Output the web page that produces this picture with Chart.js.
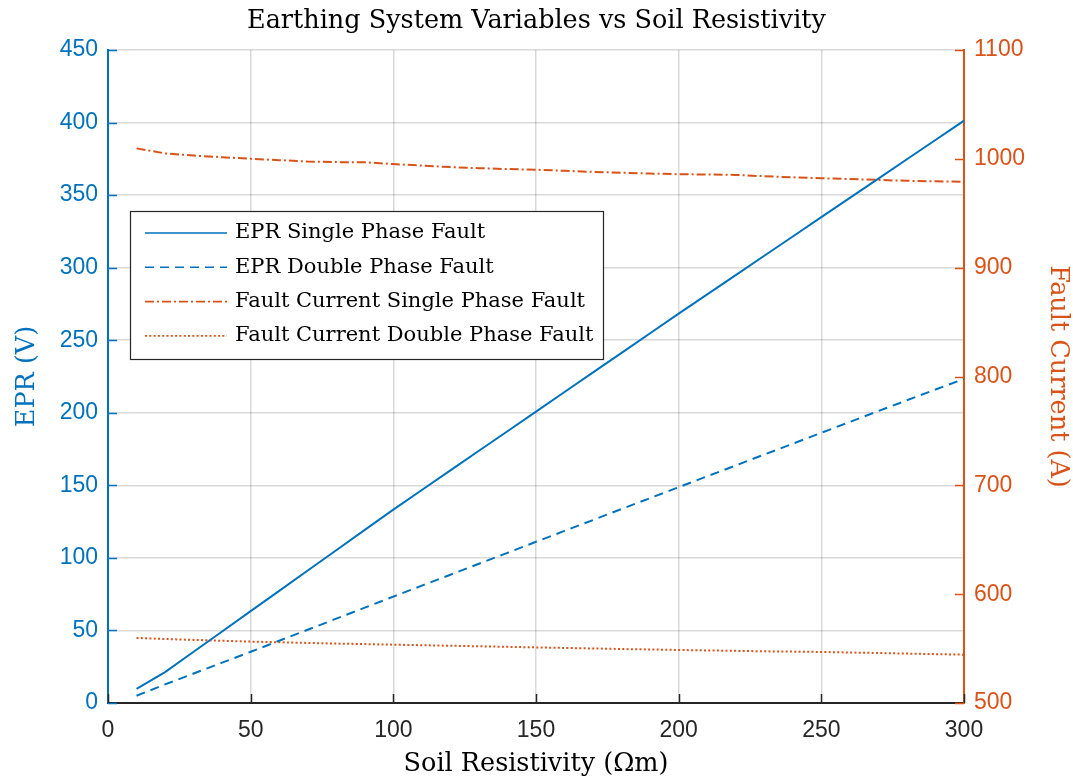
<!DOCTYPE html>
<html>
<head>
<meta charset="utf-8">
<script src="https://cdn.jsdelivr.net/npm/chart.js@4/dist/chart.umd.min.js"></script>
<style>
  html, body { margin: 0; padding: 0; background: #ffffff; }
  #wrap { width: 1073px; height: 780px; }
</style>
</head>
<body>
<div id="wrap"><canvas id="chart" width="1073" height="780"></canvas></div>
<script>
// Soil resistivity samples (Ωm)
const soilResistivity = [10, 20, 30, 40, 50, 60, 70, 80, 90, 100,
  110, 120, 130, 140, 150, 160, 170, 180, 190, 200,
  210, 220, 230, 240, 250, 260, 270, 280, 290, 300];

// Earth potential rise (V)
const eprSingle = [9.7, 21.3, 35.3, 49.3, 63.3, 77.3, 91.3, 105.3, 119.3, 133.3,
  146.8, 160.3, 173.8, 187.3, 200.8, 214.3, 227.8, 241.3, 254.8, 268.3,
  281.6, 294.9, 308.2, 321.5, 334.8, 348.1, 361.4, 374.7, 388.0, 401.3];
const eprDouble = [5.0, 12.8, 20.3, 27.8, 35.3, 42.9, 50.5, 58.1, 65.7, 73.3,
  80.9, 88.4, 96.0, 103.5, 111.1, 118.6, 126.1, 133.7, 141.2, 148.7,
  156.2, 163.7, 171.2, 178.7, 186.2, 193.7, 201.2, 208.6, 216.0, 223.4];

// Fault current (A)
const currentSingle = [1009.6, 1005.0, 1003.0, 1001.5, 1000.0, 998.8, 997.5, 997.0, 996.8, 995.2,
  993.8, 992.4, 991.4, 990.6, 990.0, 989.0, 988.0, 987.2, 986.5, 985.9,
  985.6, 985.2, 984.0, 983.0, 982.2, 981.4, 980.6, 979.8, 979.3, 978.9];
const currentDouble = [559.8, 558.8, 558.0, 557.2, 556.4, 555.8, 555.2, 554.6, 554.1, 553.6,
  553.1, 552.6, 552.1, 551.6, 551.1, 550.6, 550.1, 549.6, 549.2, 548.7,
  548.3, 547.9, 547.5, 547.2, 546.9, 546.4, 545.9, 545.4, 544.9, 544.4];

const seriesLabels = [
  'EPR Single Phase Fault',
  'EPR Double Phase Fault',
  'Fault Current Single Phase Fault',
  'Fault Current Double Phase Fault'
];

const BLUE = '#0072BD';
const ORANGE = '#D95319';
const INK = '#262626';
const SERIF = '"DejaVu Serif", "Liberation Serif", serif';
const SANS = '"Liberation Sans", Arial, sans-serif';

const pts = (ys) => soilResistivity.map((x, i) => ({ x: x, y: ys[i] }));
const plain = (v) => String(v);

// Short inward tick marks on the left, right and bottom axes
const innerTicks = {
  id: 'innerTicks',
  afterDatasetsDraw(chart) {
    const { ctx, chartArea: a, scales } = chart;
    const len = 9;
    ctx.save();
    ctx.lineWidth = 1.5;
    ctx.strokeStyle = BLUE;
    scales.y.ticks.forEach(t => {
      const p = Math.round(scales.y.getPixelForValue(t.value)) + 0.5;
      ctx.beginPath(); ctx.moveTo(a.left, p); ctx.lineTo(a.left + len, p); ctx.stroke();
    });
    ctx.strokeStyle = ORANGE;
    scales.y1.ticks.forEach(t => {
      const p = Math.round(scales.y1.getPixelForValue(t.value)) + 0.5;
      ctx.beginPath(); ctx.moveTo(a.right, p); ctx.lineTo(a.right - len, p); ctx.stroke();
    });
    ctx.strokeStyle = INK;
    scales.x.ticks.forEach(t => {
      const p = Math.round(scales.x.getPixelForValue(t.value)) + 0.5;
      ctx.beginPath(); ctx.moveTo(p, a.bottom); ctx.lineTo(p, a.bottom - len); ctx.stroke();
    });
    ctx.restore();
  }
};

// Boxed legend placed inside the plot area
const boxLegend = {
  id: 'boxLegend',
  afterDraw(chart) {
    const { ctx, chartArea: a } = chart;
    const x0 = a.left + 22, y0 = a.top + 161, w = 473, h = 148;
    ctx.save();
    ctx.fillStyle = '#ffffff';
    ctx.fillRect(x0, y0, w, h);
    ctx.strokeStyle = INK;
    ctx.lineWidth = 1.2;
    ctx.strokeRect(x0 + 0.5, y0 + 0.5, w, h);
    ctx.font = '21px ' + SERIF;
    ctx.textBaseline = 'middle';
    chart.data.datasets.forEach((ds, i) => {
      const yy = y0 + 22 + i * 34.3;
      ctx.strokeStyle = ds.borderColor;
      ctx.lineWidth = 1.6;
      ctx.setLineDash(ds.borderDash || []);
      ctx.beginPath(); ctx.moveTo(x0 + 15, yy); ctx.lineTo(x0 + 97, yy); ctx.stroke();
      ctx.setLineDash([]);
      ctx.fillStyle = '#000000';
      ctx.fillText(ds.label, x0 + 105, yy);
    });
    ctx.restore();
  }
};

new Chart(document.getElementById('chart'), {
  type: 'line',
  data: {
    datasets: [
      { label: seriesLabels[0], data: pts(eprSingle), yAxisID: 'y',
        borderColor: BLUE, borderWidth: 2, borderDash: [] },
      { label: seriesLabels[1], data: pts(eprDouble), yAxisID: 'y',
        borderColor: BLUE, borderWidth: 2, borderDash: [9, 6] },
      { label: seriesLabels[2], data: pts(currentSingle), yAxisID: 'y1',
        borderColor: ORANGE, borderWidth: 2, borderDash: [9, 3, 2, 3] },
      { label: seriesLabels[3], data: pts(currentDouble), yAxisID: 'y1',
        borderColor: ORANGE, borderWidth: 2, borderDash: [2, 2.3] }
    ]
  },
  options: {
    responsive: false,
    animation: false,
    parsing: false,
    elements: { point: { radius: 0 }, line: { tension: 0 } },
    layout: { padding: 0 },
    plugins: {
      legend: { display: false },
      tooltip: { enabled: false },
      title: {
        display: true,
        text: 'Earthing System Variables vs Soil Resistivity',
        color: '#000000',
        font: { family: SERIF, size: 25.5, weight: 'normal', lineHeight: 1.2 },
        padding: { top: 6.5, bottom: 12.9 }
      }
    },
    scales: {
      x: {
        type: 'linear', min: 0, max: 300,
        ticks: { stepSize: 50, color: INK, padding: 14, callback: plain, font: { family: SANS, size: 23 } },
        grid: { color: 'rgba(0,0,0,0.15)', lineWidth: 1.5, drawTicks: false },
        border: { display: true, color: INK, width: 2 },
        title: { display: true, text: 'Soil Resistivity (Ωm)', color: '#000000',
          font: { family: SERIF, size: 25.5, lineHeight: 1.2 }, padding: { top: 0, bottom: 0 } },
        afterFit(s) { s.height = 77; }
      },
      y: {
        type: 'linear', position: 'left', min: 0, max: 450,
        ticks: { stepSize: 50, color: BLUE, padding: 10, callback: plain, font: { family: SANS, size: 23 } },
        grid: { color: 'rgba(0,0,0,0.15)', lineWidth: 1.5, drawTicks: false },
        border: { display: true, color: BLUE, width: 2 },
        title: { display: true, text: 'EPR (V)', color: BLUE,
          font: { family: SERIF, size: 25.5, lineHeight: 1.2 }, padding: { top: 11.7, bottom: 0 } },
        afterFit(s) { s.width = 108; }
      },
      y1: {
        type: 'linear', position: 'right', min: 500, max: 1100,
        ticks: { stepSize: 100, color: ORANGE, padding: 10, callback: plain, font: { family: SANS, size: 23 } },
        grid: { display: false, drawTicks: false },
        border: { display: true, color: ORANGE, width: 2 },
        title: { display: true, text: 'Fault Current (A)', color: ORANGE,
          font: { family: SERIF, size: 25.5, lineHeight: 1.2 }, padding: { top: 0, bottom: 0 } },
        afterFit(s) { s.width = 109; }
      }
    }
  },
  plugins: [innerTicks, boxLegend]
});
</script>
</body>
</html>
